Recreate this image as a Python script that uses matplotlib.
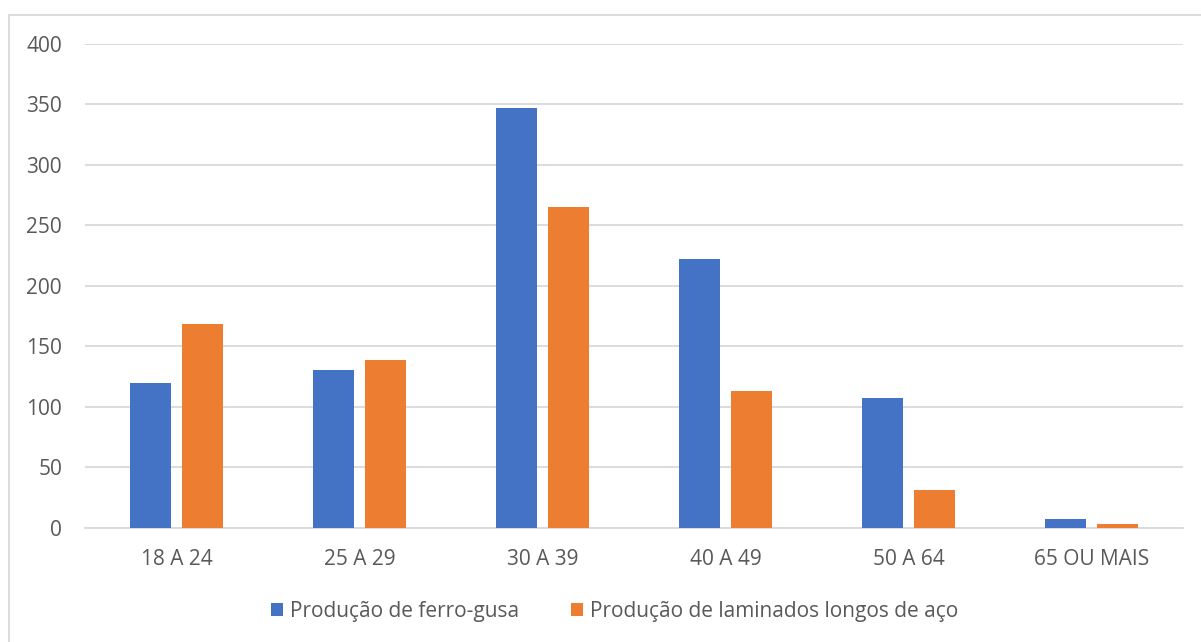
import matplotlib
matplotlib.use("Agg")
import matplotlib.pyplot as plt
from matplotlib.lines import Line2D
import numpy as np

categories = ["18 A 24", "25 A 29", "30 A 39", "40 A 49", "50 A 64", "65 OU MAIS"]
ferro_gusa = [120, 130, 347, 222, 107, 7]
laminados = [168, 139, 265, 113, 31, 3]
series_names = ["Produção de ferro-gusa", "Produção de laminados longos de aço"]
yticks = [0, 50, 100, 150, 200, 250, 300, 350, 400]

plt.rcParams['font.family'] = ['Open Sans', 'DejaVu Sans']
txt = '#595959'
fs = 15

fig = plt.figure(figsize=(12.01, 6.42), dpi=100)
# chart-area border (only left and top edges fall inside the image)
bx, by = 8.7 / 1201, 1 - 14.5 / 642
fig.lines.append(Line2D([bx, bx], [0, by], transform=fig.transFigure, color='#d9d9d9', linewidth=1.3))
fig.lines.append(Line2D([bx, 1], [by, by], transform=fig.transFigure, color='#d9d9d9', linewidth=1.3))

ax = fig.add_axes([85/1201, 1 - 527.7/642, 1098/1201, (527.7 - 43.7)/642])

x = np.arange(len(categories))
w = 0.224
ax.bar(x - 0.142, ferro_gusa, w, color='#4472c4', label=series_names[0], zorder=3)
ax.bar(x + 0.142, laminados, w, color='#ed7d31', label=series_names[1], zorder=3)

ax.set_xlim(-0.5, len(categories) - 0.5)
ax.set_ylim(0, 400)
ax.set_yticks(yticks)
ax.set_yticklabels([str(v) for v in yticks], color=txt, fontsize=fs)
ax.set_xticks(x)
ax.set_xticklabels(categories, color=txt, fontsize=fs)
ax.tick_params(axis='both', length=0)
ax.tick_params(axis='y', pad=16.5)
ax.tick_params(axis='x', pad=15)
ax.grid(axis='y', color='#d9d9d9', linewidth=1.3, zorder=0)
for s in ['top', 'right', 'left']:
    ax.spines[s].set_visible(False)
ax.spines['bottom'].set_color('#d9d9d9')
ax.spines['bottom'].set_linewidth(1.3)

leg = fig.legend(loc='center', bbox_to_anchor=(614.5/1201, 1 - 611/642), ncol=2, frameon=False,
                 fontsize=fs, handlelength=0.58, handleheight=0.58, handletextpad=0.34,
                 columnspacing=2.5)
for t in leg.get_texts():
    t.set_color(txt)

fig.savefig('out.png', dpi=100)
